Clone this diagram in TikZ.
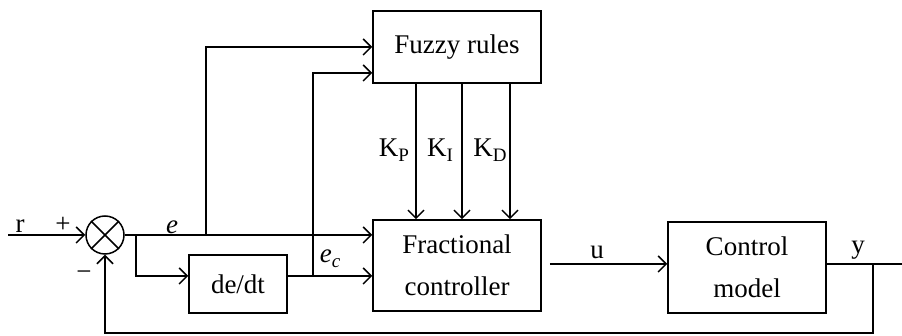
\documentclass[tikz,border=0pt]{standalone}
\usepackage{fontspec}
\setmainfont{Liberation Serif}
\usetikzlibrary{arrows.meta}
\newcommand{\subtxt}[1]{\raisebox{-2.5pt}{\fontsize{9.5}{10}\selectfont #1}}
\begin{document}
\begin{tikzpicture}[x=0.5pt,y=-0.5pt,line width=0.75pt,
  >={Straight Barb[length=4pt,width=8pt,line width=0.75pt]},
  box/.style={draw,line width=0.75pt,inner sep=0pt,align=center,font=\fontsize{13.5}{21}\selectfont},
  lbl/.style={inner sep=0pt,font=\fontsize{13.5}{15}\selectfont}]
\useasboundingbox (0,0) rectangle (902,336);
% blocks
\node[box,minimum width=84pt,minimum height=36pt] (fuzzy) at (457,47) {Fuzzy rules};
\node[box,minimum width=84pt,minimum height=45.5pt] (frac) at (457,265.5) {Fractional\\controller};
\node[box,minimum width=79pt,minimum height=45.5pt] (ctrl) at (747,267.5) {Control\\model};
\node[box,minimum width=49pt,minimum height=29pt] (dedt) at (238,284) {de/dt};
\node[draw,circle,minimum size=19pt,inner sep=0pt,line width=0.75pt] (sum) at (105,235) {};
\draw (sum.north west) -- (sum.south east);
\draw (sum.north east) -- (sum.south west);
% coordinates
\coordinate (rin) at (8,235);
\coordinate (b1) at (136,235);
\coordinate (b2) at (206,235);
\coordinate (ec) at (313,276);
\coordinate (fb) at (873,264);
\coordinate (yout) at (902,264);
% connectors
\draw[->] (rin) -- (sum.west);
\draw[->] (sum.east) -- (sum.east -| frac.west);
\draw[->] (b1) |- ([yshift=4pt]dedt.west);
\draw[->] ([yshift=4pt]dedt.east) -- ([yshift=4pt]dedt.east -| frac.west);
\draw[->] (b2) |- (fuzzy.west);
\draw[->] (ec) |- ([yshift=-13pt]fuzzy.west);
\draw[->] ([xshift=-20.5pt]fuzzy.south) -- ([xshift=-20.5pt]frac.north);
\draw[->] ([xshift=2.5pt]fuzzy.south) -- ([xshift=2.5pt]frac.north);
\draw[->] ([xshift=26.5pt]fuzzy.south) -- ([xshift=26.5pt]frac.north);
\draw[->] ([xshift=4pt,yshift=0.75pt]frac.east) -- ([yshift=1.75pt]ctrl.west);
\draw ([yshift=1.75pt]ctrl.east) -- (yout);
\draw[->] (fb) -- (fb |- 0,333) -| (sum.south);
% labels
\node[lbl] (lr) at (20,226) {r};
\node[lbl] (lplus) at (63,225) {+};
\node[lbl] (lminus) at (84,276) {−};
\node[lbl] (le) at (172,227) {\itshape e};
\node[lbl] (lec) at (330,259) {\itshape e\subtxt{c}};
\node[lbl] (lkp) at (394,150) {K\subtxt{P}};
\node[lbl] (lki) at (440,150) {K\subtxt{I}};
\node[lbl] (lkd) at (490,150) {K\subtxt{D}};
\node[lbl] (lu) at (597,252) {u};
\node[lbl] (ly) at (858,250) {y};
\end{tikzpicture}
\end{document}
